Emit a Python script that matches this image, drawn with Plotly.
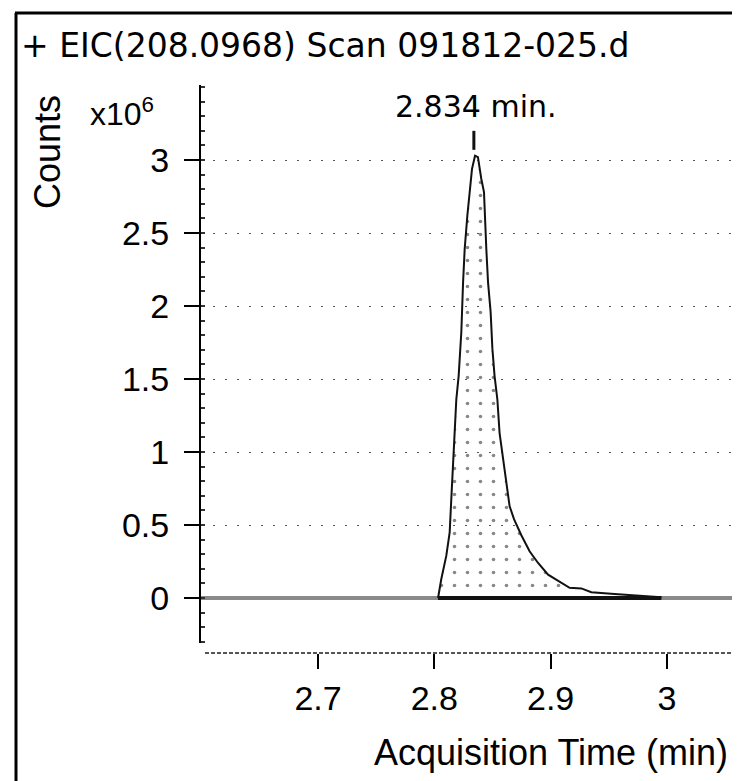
import plotly.graph_objects as go

# ---- data ----
PEAK_T = [2.8032, 2.8060, 2.8103, 2.8132, 2.8146, 2.8161, 2.8175, 2.8189, 2.8209,
          2.8232, 2.8247, 2.8261, 2.8284, 2.8304, 2.8324, 2.8350, 2.8375, 2.8404,
          2.8427, 2.8447, 2.8462, 2.8484, 2.8499, 2.8518, 2.8542, 2.8561, 2.8591,
          2.8619, 2.8647, 2.8685, 2.8748, 2.8819, 2.8892, 2.8978, 2.9064, 2.9163,
          2.9264, 2.9350, 2.9548, 2.9666, 2.9952]
PEAK_COUNTS = [0.0, 0.13, 0.29, 0.45, 0.68, 0.91, 1.13, 1.36, 1.52,
               1.82, 2.16, 2.39, 2.62, 2.78, 2.94, 3.03, 3.02, 2.87,
               2.78, 2.39, 2.16, 1.96, 1.71, 1.52, 1.36, 1.13, 0.95,
               0.79, 0.63, 0.54, 0.43, 0.32, 0.24, 0.16, 0.12, 0.07,
               0.066, 0.04, 0.027, 0.02, 0.005]   # x10^6 counts

BASELINE_T = [2.5994, 3.0628]
BASELINE_COUNTS = [0.0, 0.0]
INTEGRATION_T = [2.8032, 2.9952]
INTEGRATION_COUNTS = [0.0, 0.0]
APEX_T = [2.834, 2.834]
APEX_MARK_COUNTS = [3.07, 3.20]

Y_TICKS = [0, 0.5, 1, 1.5, 2, 2.5, 3]
Y_TICK_LABELS = ["0", "0.5", "1", "1.5", "2", "2.5", "3"]
X_TICKS = [2.7, 2.8, 2.9, 3.0]
X_TICK_LABELS = ["2.7", "2.8", "2.9", "3"]

TITLE = "+ EIC(208.0968) Scan 091812-025.d"
APEX_LABEL = "2.834 min."
SCALE = 1e6

# ---- layout geometry (figure pixels; page adds an 8px body margin) ----
OFF = 8
W, H = 740 - OFF, 781 - OFF
L, R, T, B = 201 - OFF, 0, 85 - OFF, H - (653 - OFF)
PW, PH = W - L - R, H - T - B


def px(x):  # screen x -> paper
    return (x - OFF - L) / PW


def py(y):  # screen y -> paper
    return (H - B - (y - OFF)) / PH


SANS = "Liberation Sans, Arial, sans-serif"
WIDE = "DejaVu Sans, Liberation Sans, sans-serif"

fig = go.Figure()
fig.add_trace(go.Scatter(x=BASELINE_T, y=[v * SCALE for v in BASELINE_COUNTS],
                         mode="lines", line=dict(color="#8a8a8a", width=4),
                         hoverinfo="skip", showlegend=False))
fig.add_trace(go.Scatter(x=PEAK_T, y=[v * SCALE for v in PEAK_COUNTS],
                         mode="lines", line=dict(color="#111111", width=2),
                         fill="tozeroy", fillcolor="rgba(255,255,255,0)",
                         fillpattern=dict(shape=".", size=13, solidity=0.06,
                                          fgcolor="#111111", bgcolor="rgba(255,255,255,0)"),
                         showlegend=False))
fig.add_trace(go.Scatter(x=INTEGRATION_T, y=[v * SCALE for v in INTEGRATION_COUNTS],
                         mode="lines", line=dict(color="#111111", width=4),
                         hoverinfo="skip", showlegend=False))
fig.add_trace(go.Scatter(x=APEX_T, y=[v * SCALE for v in APEX_MARK_COUNTS],
                         mode="lines", line=dict(color="#111111", width=3),
                         hoverinfo="skip", showlegend=False))

fig.update_layout(
    width=W, height=H,
    margin=dict(l=L, r=R, t=T, b=B, autoexpand=False),
    paper_bgcolor="white", plot_bgcolor="white",
    font=dict(family=SANS, color="black"),
    xaxis=dict(range=[2.5994, 3.0628], anchor="free", position=0,
               tickvals=X_TICKS, ticktext=X_TICK_LABELS,
               ticks="outside", ticklen=15, tickwidth=2, tickcolor="black",
               tickfont=dict(family=SANS, size=34, color="black"),
               showgrid=False, zeroline=False, showline=False, automargin=False),
    yaxis=dict(range=[-0.308 * SCALE, 3.514 * SCALE], domain=[10 / PH, 1],
               tickvals=[v * SCALE for v in Y_TICKS], ticktext=Y_TICK_LABELS,
               ticks="outside", ticklen=15, tickwidth=2, tickcolor="black",
               tickfont=dict(family=SANS, size=34, color="black"),
               ticklabelstandoff=8,
               minor=dict(ticks="inside", ticklen=4, tickcolor="#333",
                          dtick=0.1 * SCALE, showgrid=False),
               showgrid=True, gridcolor="#555555", gridwidth=1, griddash="2px,10px",
               zeroline=False, showline=True, linecolor="black", linewidth=2,
               automargin=False),
    showlegend=False,
)

shapes = [
    # dashed x-axis line
    dict(type="line", xref="paper", yref="paper", x0=px(205), x1=1.0, y0=py(653), y1=py(653),
         line=dict(color="#555555", width=2, dash="4px,2px")),
    # outer frame: left and top
    dict(type="line", xref="paper", yref="paper", x0=px(16), x1=px(16), y0=py(781), y1=py(13),
         line=dict(color="black", width=3)),
    dict(type="line", xref="paper", yref="paper", x0=px(15), x1=1.0, y0=py(13), y1=py(13),
         line=dict(color="black", width=3)),
]
fig.update_layout(shapes=shapes)

annotations = [
    dict(text=TITLE, xref="paper", yref="paper", x=px(19), y=py(45),
         xanchor="left", yanchor="middle", showarrow=False,
         font=dict(family=WIDE, size=33, color="black")),
    dict(text=APEX_LABEL, xref="paper", yref="paper", x=px(476), y=py(106),
         xanchor="center", yanchor="middle", showarrow=False,
         font=dict(family=WIDE, size=30, color="black")),
    dict(text="x10<sup>6</sup>", xref="paper", yref="paper", x=px(88), y=py(112),
         xanchor="left", yanchor="middle", showarrow=False,
         font=dict(family=SANS, size=32, color="black")),
    dict(text="Counts", xref="paper", yref="paper", x=px(47), y=py(152),
         xanchor="center", yanchor="middle", showarrow=False, textangle=-90,
         font=dict(family=SANS, size=36, color="black")),
    dict(text="Acquisition Time (min)", xref="paper", yref="paper", x=px(551), y=py(752),
         xanchor="center", yanchor="middle", showarrow=False,
         font=dict(family=SANS, size=36, color="black")),
]
fig.update_layout(annotations=annotations)

fig.write_html("out.html")
